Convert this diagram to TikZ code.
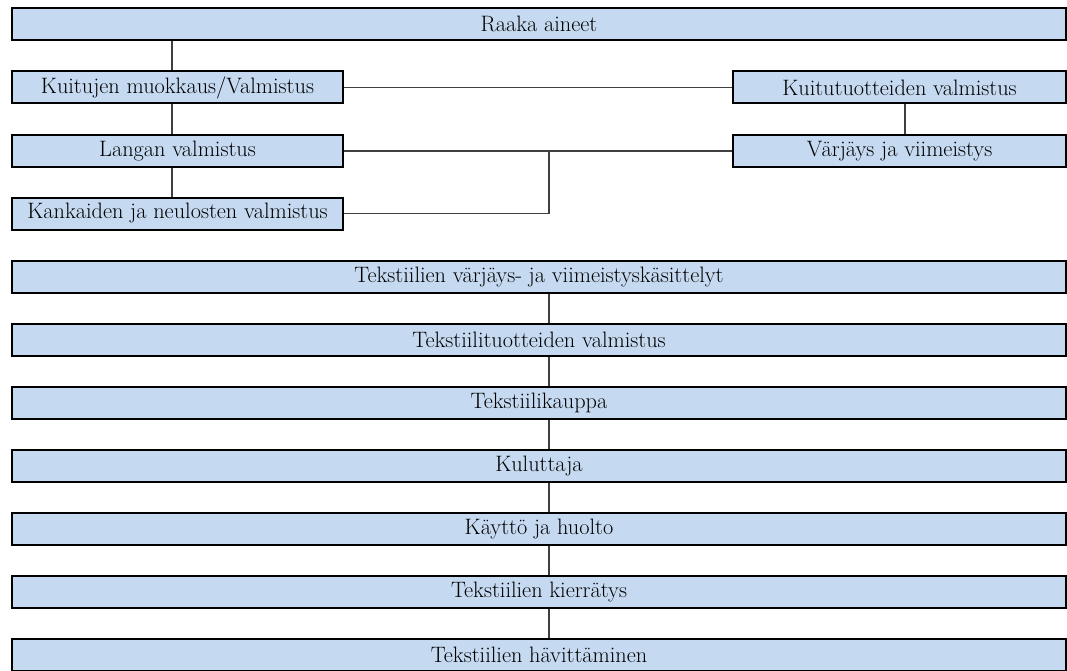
\documentclass[tikz,border=0pt]{standalone}
\usepackage{tikz}
\usetikzlibrary{positioning}
\definecolor{laatikko}{RGB}{197,217,240}
\definecolor{viiva}{RGB}{64,64,64}

\begin{document}
\begin{tikzpicture}[x=1pt, y=-1pt,
        vaihe/.style={draw=black, line width=2pt, fill=laatikko, rectangle,
            minimum height=32pt, inner sep=0pt, font=\fontsize{22.3}{26}\selectfont},
        leveä/.style={vaihe, minimum width=1054pt},
        kapea/.style={vaihe, minimum width=331pt},
        linkki/.style={draw=viiva, line width=1.2pt}]
            \useasboundingbox (0, 0) rectangle (1067, 671);

            \node [leveä] (raaka) at (539, 24) {Raaka aineet};
            \node [kapea] (kuitu) at (177.5, 87.5) {Kuitujen muokkaus/Valmistus};
            \node [kapea] (lanka) at (177.5, 151) {Langan valmistus};
            \node [kapea] (kangas) at (177.5, 213.5) {Kankaiden ja neulosten valmistus};
            \node [vaihe, minimum width=333pt] (kuitutuote) at (899.5, 87.5) {Kuitutuotteiden valmistus};
            \node [vaihe, minimum width=333pt] (varjays) at (899.5, 151) {Värjäys ja viimeistys};
            \coordinate (liitos) at (549, 151);

            \node [leveä] (kasittely) at (539, 277) {Tekstiilien värjäys- ja viimeistyskäsittelyt};
            \node [leveä] (tuote) at (539, 340) {Tekstiilituotteiden valmistus};
            \node [leveä] (kauppa) at (539, 403) {Tekstiilikauppa};
            \node [leveä] (kuluttaja) at (539, 466) {Kuluttaja};
            \node [leveä] (kaytto) at (539, 529) {Käyttö ja huolto};
            \node [leveä] (kierratys) at (539, 592) {Tekstiilien kierrätys};
            \node [leveä] (havitys) at (539, 655) {Tekstiilien hävittäminen};

            \draw [linkki] ([xshift=-5.5pt]kuitu.north) -- ([xshift=-5.5pt]kuitu.north |- raaka.south);
            \draw [linkki] ([xshift=-5.5pt]kuitu.south) -- ([xshift=-5.5pt]lanka.north);
            \draw [linkki] ([xshift=-5.5pt]lanka.south) -- ([xshift=-5.5pt]kangas.north);
            \draw [linkki] (kuitu.east) -- (kuitutuote.west);
            \draw [linkki] ([xshift=5.5pt]kuitutuote.south) -- ([xshift=5.5pt]varjays.north);
            \draw [linkki] (lanka.east) -- (varjays.west);
            \draw [linkki] (kangas.east) -| (liitos);

            \draw [linkki] (kasittely.south -| liitos) -- (tuote.north -| liitos);
            \draw [linkki] (tuote.south -| liitos) -- (kauppa.north -| liitos);
            \draw [linkki] (kauppa.south -| liitos) -- (kuluttaja.north -| liitos);
            \draw [linkki] (kuluttaja.south -| liitos) -- (kaytto.north -| liitos);
            \draw [linkki] (kaytto.south -| liitos) -- (kierratys.north -| liitos);
            \draw [linkki] (kierratys.south -| liitos) -- (havitys.north -| liitos);
        \end{tikzpicture}
\end{document}
